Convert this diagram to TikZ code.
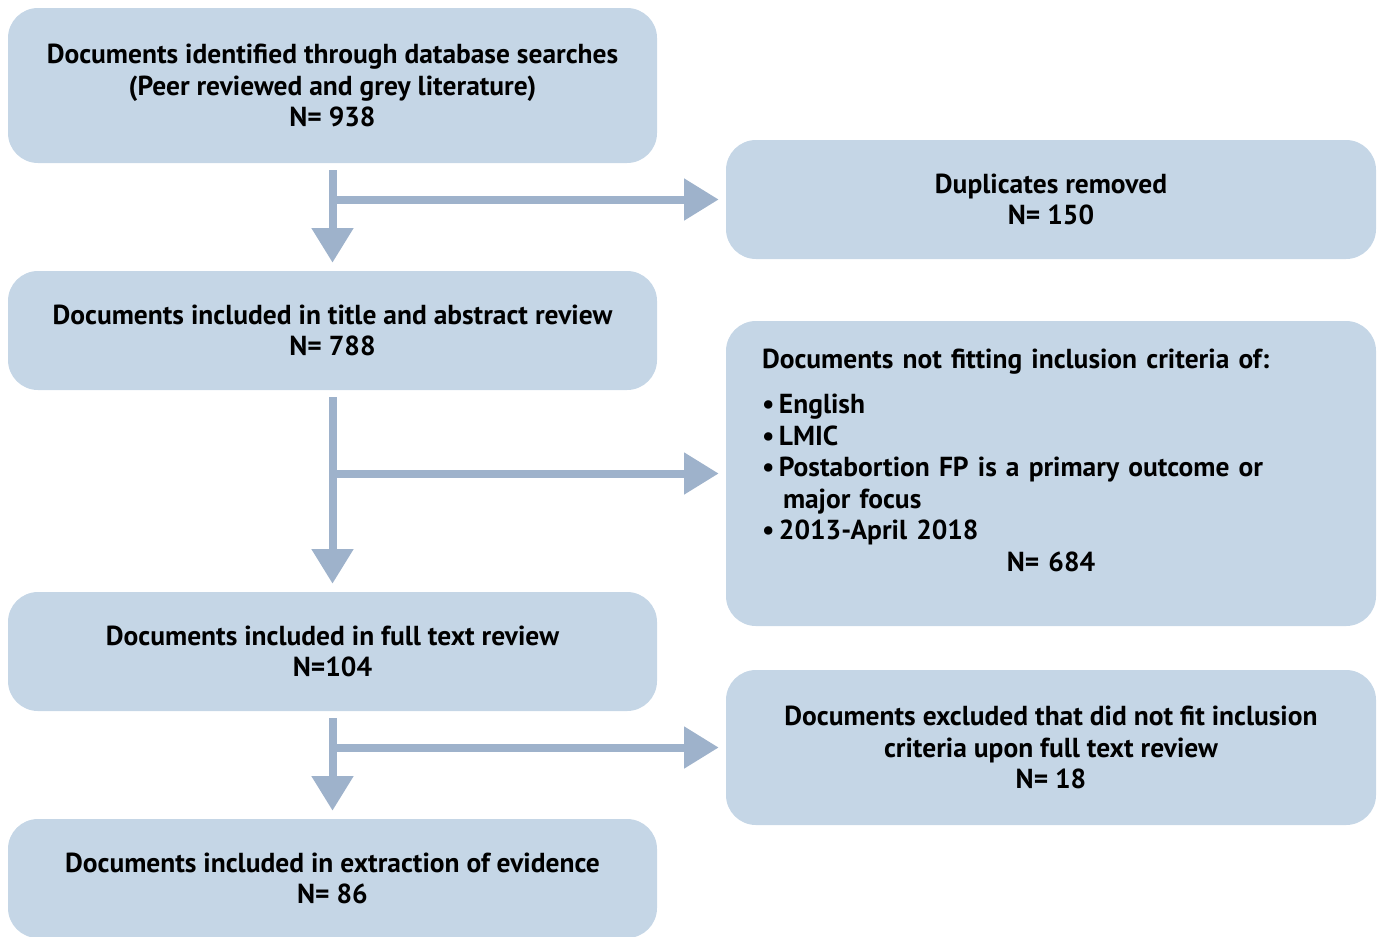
\documentclass[tikz,border=0pt]{standalone}
\usepackage{fontspec}
\setmainfont{PT Sans}
\usetikzlibrary{arrows.meta}
\definecolor{boxblue}{HTML}{C5D6E6}
\definecolor{arrowblue}{HTML}{9EB2CB}
\begin{document}
\begin{tikzpicture}[x=0.75pt,y=-0.75pt,
    box/.style={fill=boxblue,rounded corners=22.5pt,align=center,inner sep=0pt,
      font=\bfseries\fontsize{20.6pt}{23.6pt}\selectfont},
    flow/.style={draw=arrowblue,line width=6pt,-{Triangle[length=26pt,width=30pt]}}]

      \useasboundingbox (0,0) rectangle (1380,936);

      \node[box,minimum width=486.75pt,minimum height=116.25pt] (found) at (332.5,85.5)
        {Documents identified through database searches\\(Peer reviewed and grey literature)\\N= 938};
      \node[box,minimum width=487.5pt,minimum height=89.25pt] (dupl) at (1051,199.5)
        {Duplicates removed\\N= 150};
      \node[box,minimum width=486.75pt,minimum height=89.25pt] (title) at (332.5,330.5)
        {Documents included in title and abstract review\\N= 788};
      \node[box,minimum width=487.5pt,minimum height=228.75pt,align=left,text width=433.5pt] (crit) at (1051,473.5)
        {Documents not fitting inclusion criteria of:\\[10pt]
         \textbullet\,English\\
         \textbullet\,LMIC\\
         \textbullet\,Postabortion FP is a primary outcome or\\
         \hspace*{15.75pt}major focus\\
         \textbullet\,2013-April 2018\\
         \makebox[\linewidth][c]{N= 684\rule[-20pt]{0pt}{0pt}}};
      \node[box,minimum width=486.75pt,minimum height=89.25pt] (full) at (332.5,651.5)
        {Documents included in full text review\\N=104};
      \node[box,minimum width=487.5pt,minimum height=116.25pt] (excl) at (1051,747.5)
        {Documents excluded that did not fit inclusion\\criteria upon full text review\\N= 18};
      \node[box,minimum width=486.75pt,minimum height=89.25pt] (extr) at (332.5,878.5)
        {Documents included in extraction of evidence\\N= 86};

      \coordinate (j1) at (found.south |- dupl.west);
      \coordinate (j2) at (title.south |- crit.west);
      \coordinate (j3) at (full.south |- excl.west);

      \draw[flow,shorten <=5.25pt,shorten >=6pt] (found.south) -- (title.north);
      \draw[flow,shorten >=5.25pt] (j1) -- (dupl.west);
      \draw[flow,shorten <=5.25pt,shorten >=6pt] (title.south) -- (full.north);
      \draw[flow,shorten >=5.25pt] (j2) -- (crit.west);
      \draw[flow,shorten <=5.25pt,shorten >=6pt] (full.south) -- (extr.north);
      \draw[flow,shorten >=5.25pt] (j3) -- (excl.west);
    \end{tikzpicture}
\end{document}
